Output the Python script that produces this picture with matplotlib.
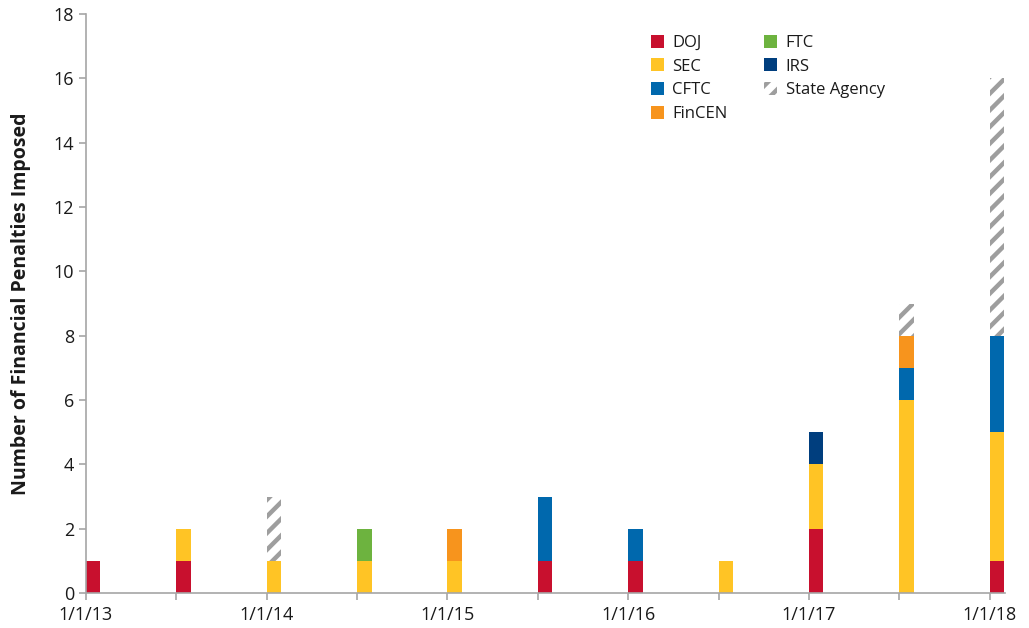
import matplotlib
matplotlib.use("Agg")
import matplotlib.pyplot as plt
import numpy as np

plt.rcParams['font.family'] = ['Open Sans', 'DejaVu Sans']
plt.rcParams['hatch.linewidth'] = 3.2

periods = ["1/1/13", "7/1/13", "1/1/14", "7/1/14", "1/1/15", "7/1/15",
           "1/1/16", "7/1/16", "1/1/17", "7/1/17", "1/1/18"]
doj    = [1, 1, 0, 0, 0, 1, 1, 0, 2, 0, 1]
sec    = [0, 1, 1, 1, 1, 0, 0, 1, 2, 6, 4]
cftc   = [0, 0, 0, 0, 0, 2, 1, 0, 0, 1, 3]
fincen = [0, 0, 0, 0, 1, 0, 0, 0, 0, 1, 0]
ftc    = [0, 0, 0, 1, 0, 0, 0, 0, 0, 0, 0]
irs    = [0, 0, 0, 0, 0, 0, 0, 0, 1, 0, 0]
state  = [0, 0, 2, 0, 0, 0, 0, 0, 0, 1, 8]

series = [("DOJ", doj, "#C8102E"), ("SEC", sec, "#FFC425"),
          ("CFTC", cftc, "#0068AD"), ("FinCEN", fincen, "#F7941D"),
          ("FTC", ftc, "#6DB33F"), ("IRS", irs, "#003E7E")]

fig = plt.figure(figsize=(10.29, 6.28), dpi=100)
ax = fig.add_axes([86/1029, 35/628, (1005-86)/1029, (593-14)/628])

x = np.arange(len(periods))
w = 0.16
bottom = np.zeros(len(periods))
for name, vals, col in series:
    v = np.array(vals, dtype=float)
    ax.bar(x, v, w, bottom=bottom, align='edge', color=col, linewidth=0, label=name)
    bottom += v
ax.bar(x, state, w, bottom=bottom, align='edge', facecolor='white',
       edgecolor='#9E9E9E', hatch='//', linewidth=0, label='State Agency')

ax.set_xlim(0, 10.17)
ax.set_ylim(0, 18)
ax.set_yticks(np.arange(0, 19, 2))
ax.set_xticks(x)
ax.set_xticklabels([p if i % 2 == 0 else "" for i, p in enumerate(periods)])
for s in ['top', 'right']:
    ax.spines[s].set_visible(False)
for s in ['left', 'bottom']:
    ax.spines[s].set_color('#A6A6A6')
    ax.spines[s].set_linewidth(1.2)
ax.tick_params(axis='both', colors='#A6A6A6', labelcolor='#1a1a1a',
               labelsize=13, length=5, width=1.2)
ax.tick_params(axis='x', pad=4)
ax.set_ylabel("Number of Financial Penalties Imposed", fontsize=14,
              fontweight='bold', color='#1a1a1a', labelpad=16)

leg = ax.legend(ncol=2, loc='upper left', bbox_to_anchor=(0.598, 0.99),
                frameon=False, fontsize=12, handlelength=0.8, handleheight=0.8,
                handletextpad=0.5, columnspacing=2.2, labelspacing=0.45)
for t in leg.get_texts():
    t.set_color('#1a1a1a')

fig.savefig("out.png", dpi=100)
